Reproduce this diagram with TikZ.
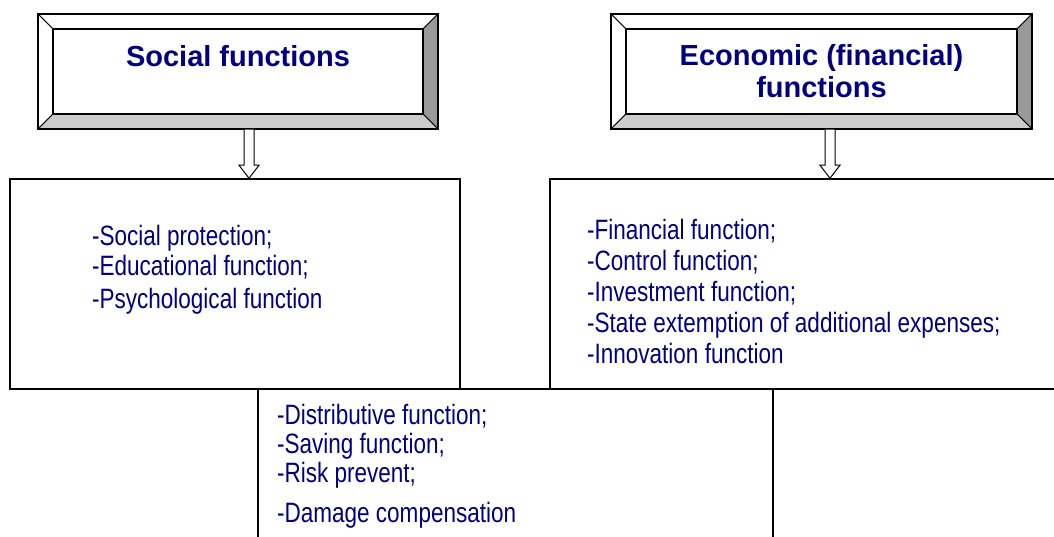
\documentclass[tikz,border=0pt]{standalone}
\usepackage{fontspec}
\setmainfont{Liberation Sans}
\newfontfamily\narrowfont[FakeStretch=0.805]{Liberation Sans}
\usetikzlibrary{calc}
\definecolor{navyblue}{RGB}{0,0,128}
\definecolor{bevelgray}{RGB}{153,153,153}
\definecolor{bevellight}{RGB}{204,204,204}
\newcommand{\titlefont}{\bfseries\fontsize{29}{32}\selectfont}
\newcommand{\listfont}{\narrowfont\fontsize{28}{31}\selectfont}
% hollow block arrow from a coordinate down to the top of a node
\newcommand{\hollowarrow}[2]{%
  \draw[arrowline] ($(#1)+(-5,0)$) -- ($(#1 |- #2.north)+(-5,-13)$) -- ++(-5,0)
    -- (#1 |- #2.north) -- ($(#1 |- #2.north)+(10,-13)$) -- ++(-5,0) -- ($(#1)+(5,0)$);
}

\begin{document}
\begin{tikzpicture}[
        x=1pt, y=-1pt,
        line width=1.5,
        box/.style={draw=black, rectangle, inner sep=0pt},
        bevelbox/.style={box, minimum height=115, font=\titlefont,
            text=navyblue, align=center,
            path picture={
                \coordinate (nw) at (path picture bounding box.north west);
                \coordinate (ne) at (path picture bounding box.north east);
                \coordinate (sw) at (path picture bounding box.south west);
                \coordinate (se) at (path picture bounding box.south east);
                \filldraw[fill=white, line width=0.8] (nw) -- (ne) -- ($(ne)+(-15,15)$) -- ($(nw)+(15,15)$) -- cycle;
                \filldraw[fill=white, line width=0.8] (nw) -- ($(nw)+(15,15)$) -- ($(sw)+(15,-15)$) -- (sw) -- cycle;
                \filldraw[fill=bevelgray, line width=0.8] (ne) -- (se) -- ($(se)+(-15,-15)$) -- ($(ne)+(-15,15)$) -- cycle;
                \filldraw[fill=bevellight, line width=0.8] (sw) -- (se) -- ($(se)+(-15,-15)$) -- ($(sw)+(15,-15)$) -- cycle;
                \draw[line width=1.5] ($(nw)+(15,15)$) rectangle ($(se)+(-15,-15)$);
            }},
        listtext/.style={text=navyblue, font=\listfont, align=left, inner sep=0pt, anchor=west},
        arrowline/.style={draw=black, line width=1, fill=white, line join=miter}]
        \useasboundingbox (0,0) rectangle (1054,537);
        \clip (0,0) rectangle (1054,537);
        % NODES
        % headings
        \node[bevelbox, minimum width=400] (S) at (238,71.5) {Social functions\\~};
        \node[bevelbox, minimum width=421] (E) at (821.5,71.5) {Economic (financial)\\functions};
        % function lists
        \node[box, minimum width=450, minimum height=210] (SL) at (235,284) {};
        \node[box, minimum width=514, minimum height=210] (EL) at (807,284) {};
        \node[box, minimum width=515, minimum height=170] (DL) at (515.5,474) {};
        \node[listtext] (SLtxt) at ($(SL.west)+(82,-14)$) {-Social protection;\\[-1pt]-Educational function;\\[2pt]-Psychological function};
        \node[listtext] (ELtxt) at ($(EL.west)+(37,7)$) {-Financial function;\\-Control function;\\-Investment function;\\-State extemption of additional expenses;\\-Innovation function};
        \node[listtext] (DLtxt) at ($(DL.west)+(19,-8)$) {-Distributive function;\\[-2pt]-Saving function;\\[-2pt]-Risk prevent;\\[9pt]-Damage compensation};

        % ARROWS
        \coordinate (a1) at ($(S.south)+(11,0)$);
        \coordinate (a2) at ($(E.south)+(8.5,0)$);
        \hollowarrow{a1}{SL}
        \hollowarrow{a2}{EL}
    \end{tikzpicture}
\end{document}
